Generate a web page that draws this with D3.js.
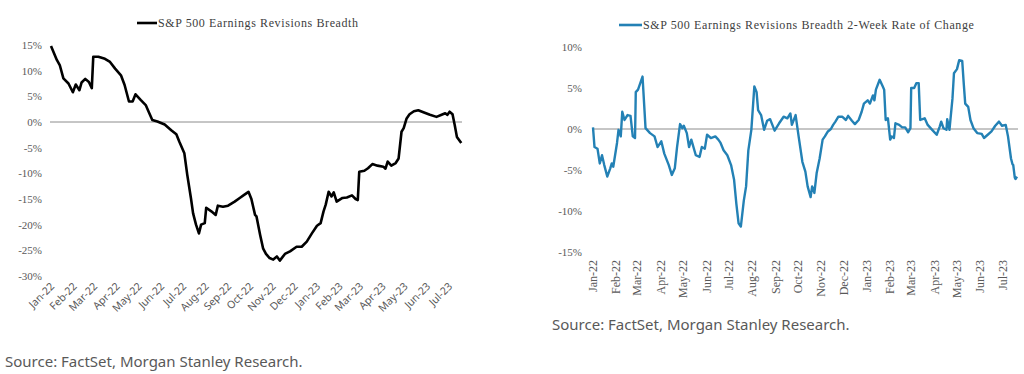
<!DOCTYPE html>
<html>
<head>
<meta charset="utf-8">
<script src="https://cdn.jsdelivr.net/npm/d3@7"></script>
<style>
  body { margin: 0; background: #fff; }
  svg { display: block; }
  .tick text { font-family: "Liberation Serif", "Times New Roman", serif; fill: #595959; }
  .src { font-family: "Noto Sans", sans-serif; fill: #595959; font-size: 15px; }
  .ttl { font-family: "Liberation Serif", serif; fill: #404040; font-size: 12px; letter-spacing: 0.6px; }
</style>
</head>
<body>
<script>
var width = 1024,
    height = 374;

// left: S&P 500 earnings revisions breadth (%)
var breadthDates = ["2022-01-01","2022-01-09","2022-01-13","2022-01-18","2022-01-25","2022-01-31","2022-02-04","2022-02-09","2022-02-12","2022-02-17","2022-02-22","2022-02-26","2022-02-28","2022-03-07","2022-03-16","2022-03-23","2022-03-30","2022-04-07","2022-04-12","2022-04-18","2022-04-23","2022-04-27","2022-05-04","2022-05-11","2022-05-15","2022-05-20","2022-05-27","2022-06-06","2022-06-15","2022-06-22","2022-06-26","2022-07-03","2022-07-07","2022-07-12","2022-07-15","2022-07-19","2022-07-23","2022-07-26","2022-07-31","2022-08-02","2022-08-09","2022-08-15","2022-08-18","2022-08-25","2022-09-01","2022-09-10","2022-09-17","2022-09-23","2022-09-29","2022-10-03","2022-10-08","2022-10-10","2022-10-15","2022-10-19","2022-10-23","2022-10-28","2022-11-02","2022-11-07","2022-11-11","2022-11-18","2022-11-25","2022-12-04","2022-12-11","2022-12-18","2022-12-25","2023-01-01","2023-01-06","2023-01-10","2023-01-13","2023-01-17","2023-01-21","2023-01-24","2023-01-28","2023-02-05","2023-02-11","2023-02-18","2023-02-23","2023-02-26","2023-02-28","2023-03-07","2023-03-12","2023-03-18","2023-03-25","2023-04-02","2023-04-05","2023-04-08","2023-04-13","2023-04-19","2023-04-23","2023-04-27","2023-04-30","2023-05-04","2023-05-08","2023-05-14","2023-05-20","2023-05-27","2023-06-05","2023-06-14","2023-06-21","2023-06-26","2023-06-29","2023-07-02","2023-07-06","2023-07-09","2023-07-12","2023-07-15","2023-07-18"];
var breadthValues = [14.8,12.1,11.1,8.5,7.5,5.8,7.3,6.2,7.7,8.4,7.8,6.6,12.7,12.7,12.3,11.7,10.4,9.1,7.2,4.0,4.0,5.4,4.3,3.3,2.0,0.4,0.1,-0.5,-1.6,-2.4,-3.8,-6.1,-10.3,-14.8,-17.8,-20.0,-21.7,-20.0,-19.7,-16.7,-17.4,-18.1,-16.3,-16.5,-16.3,-15.5,-14.8,-14.2,-13.6,-15.0,-18.1,-18.4,-22.0,-24.6,-25.7,-26.5,-26.8,-26.2,-27.0,-25.7,-25.2,-24.3,-24.3,-23.3,-21.7,-20.2,-19.7,-17.4,-16.1,-13.6,-14.5,-13.7,-15.5,-14.8,-14.7,-14.3,-15.0,-15.2,-9.7,-9.5,-9.0,-8.2,-8.5,-8.7,-9.1,-7.7,-8.5,-8.0,-7.1,-1.9,-1.2,0.7,1.5,2.1,2.3,1.9,1.4,1.0,1.4,1.7,1.4,2.0,1.5,-0.6,-2.9,-3.5,-4.1];

// right: 2-week rate of change (%)
var rocDates = ["2022-01-01","2022-01-03","2022-01-07","2022-01-10","2022-01-13","2022-01-16","2022-01-20","2022-01-24","2022-01-26","2022-01-28","2022-02-02","2022-02-04","2022-02-07","2022-02-09","2022-02-12","2022-02-16","2022-02-20","2022-02-23","2022-02-26","2022-02-27","2022-03-02","2022-03-05","2022-03-08","2022-03-12","2022-03-18","2022-03-24","2022-03-28","2022-04-02","2022-04-06","2022-04-12","2022-04-16","2022-04-20","2022-04-23","2022-04-27","2022-04-30","2022-05-02","2022-05-06","2022-05-09","2022-05-12","2022-05-18","2022-05-23","2022-05-26","2022-05-30","2022-06-02","2022-06-07","2022-06-13","2022-06-17","2022-06-20","2022-06-24","2022-06-29","2022-07-04","2022-07-08","2022-07-11","2022-07-14","2022-07-17","2022-07-21","2022-07-24","2022-07-27","2022-07-31","2022-08-04","2022-08-07","2022-08-09","2022-08-13","2022-08-17","2022-08-21","2022-08-25","2022-08-31","2022-09-06","2022-09-12","2022-09-17","2022-09-21","2022-09-23","2022-09-28","2022-10-02","2022-10-07","2022-10-11","2022-10-14","2022-10-18","2022-10-20","2022-10-23","2022-10-26","2022-10-30","2022-11-03","2022-11-06","2022-11-10","2022-11-14","2022-11-17","2022-11-20","2022-11-24","2022-11-29","2022-12-04","2022-12-07","2022-12-12","2022-12-16","2022-12-21","2022-12-25","2022-12-28","2023-01-02","2023-01-05","2023-01-09","2023-01-11","2023-01-13","2023-01-18","2023-01-22","2023-01-24","2023-01-26","2023-01-29","2023-02-01","2023-02-03","2023-02-06","2023-02-08","2023-02-13","2023-02-17","2023-02-21","2023-02-25","2023-02-28","2023-03-01","2023-03-05","2023-03-08","2023-03-11","2023-03-13","2023-03-19","2023-03-23","2023-03-29","2023-04-04","2023-04-08","2023-04-10","2023-04-13","2023-04-17","2023-04-18","2023-04-21","2023-04-25","2023-04-27","2023-05-01","2023-05-04","2023-05-08","2023-05-10","2023-05-12","2023-05-16","2023-05-19","2023-05-23","2023-05-28","2023-06-03","2023-06-06","2023-06-11","2023-06-16","2023-06-21","2023-06-26","2023-06-30","2023-07-05","2023-07-08","2023-07-12","2023-07-14","2023-07-15","2023-07-17","2023-07-18","2023-07-20"];
var rocValues = [0.2,-2.2,-2.4,-4.2,-3.2,-4.4,-5.8,-4.8,-4.2,-4.6,-1.7,-0.1,-0.9,2.1,1.1,1.7,1.6,-0.9,-1.1,4.5,4.8,5.6,6.4,0.1,-0.5,-0.9,-2.2,-1.5,-3.0,-4.4,-5.6,-4.8,-2.2,0.6,0.1,0.4,-0.5,-2.2,-1.3,-3.2,-3.4,-2.2,-2.4,-0.7,-1.1,-0.9,-1.3,-1.7,-2.6,-3.2,-4.4,-6.2,-9.1,-11.5,-11.9,-8.7,-7.0,-2.6,-0.1,5.2,4.5,2.3,1.7,-0.1,1.0,1.2,-0.2,0.7,1.5,1.3,1.9,0.5,1.7,-0.9,-4.0,-5.2,-7.0,-8.3,-7.0,-7.8,-5.4,-3.6,-1.3,-0.9,-0.3,0.0,0.5,0.9,1.5,1.5,1.1,1.6,1.0,0.6,1.1,2.1,3.1,3.5,3.1,4.1,3.5,4.8,6.0,5.2,4.8,1.1,1.3,-1.3,-0.9,-1.1,0.7,0.5,0.2,0.2,-0.4,0.1,5.0,5.0,5.6,5.6,1.1,1.3,0.5,-0.1,-0.7,0.3,0.9,0.1,-0.1,1.2,-0.1,3.7,6.8,7.3,8.4,8.3,5.6,3.1,2.7,1.1,0.1,-0.5,-0.6,-1.1,-0.7,-0.3,0.4,0.9,0.4,0.5,-0.9,-3.6,-4.3,-4.4,-5.9,-6.1,-5.8];

var monthLabels = ["Jan-22","Feb-22","Mar-22","Apr-22","May-22","Jun-22","Jul-22","Aug-22","Sep-22","Oct-22","Nov-22","Dec-22","Jan-23","Feb-23","Mar-23","Apr-23","May-23","Jun-23","Jul-23"];
var breadthTicks = [15,10,5,0,-5,-10,-15,-20,-25,-30];
var rocTicks = [10,5,0,-5,-10,-15];

var parseDay = d3.timeParse("%Y-%m-%d"),
    parseMonth = d3.timeParse("%b-%y");
var months = monthLabels.map(parseMonth);

var svg = d3.select("body").append("svg")
    .attr("width", width)
    .attr("height", height);

function pct(d) { return d + "%"; }

// ---- left chart ----
var x1 = d3.scaleTime()
    .domain([parseDay("2022-01-01"), parseDay("2023-07-19")])
    .range([51, 462]);
var y1 = d3.scaleLinear().domain([-30, 15]).range([276, 45]);

var gy1 = svg.append("g")
    .attr("transform", "translate(44,0)")
    .call(d3.axisLeft(y1).tickValues(breadthTicks).tickFormat(pct).tickSize(0).tickPadding(2));
gy1.select(".domain").remove();
gy1.selectAll("text").style("font-size", "11px");

svg.append("line")
    .attr("x1", 50).attr("x2", 462)
    .attr("y1", y1(0)).attr("y2", y1(0))
    .attr("stroke", "#8c8c8c").attr("stroke-width", 1);

// month labels on the left are sans, slanted
svg.append("g").selectAll("text")
    .data(months)
    .enter().append("text")
      .attr("transform", function(d) { return "translate(" + (x1(d) + 4) + ",287) rotate(-45)"; })
      .attr("text-anchor", "end")
      .style("font-family", "Noto Sans, sans-serif")
      .style("font-size", "10.5px")
      .style("fill", "#595959")
      .text(function(d, i) { return monthLabels[i]; });

var breadth = breadthDates.map(function(d, i) { return [parseDay(d), breadthValues[i]]; });

svg.append("path")
    .datum(breadth)
    .attr("fill", "none")
    .attr("stroke", "#000")
    .attr("stroke-width", 2.6)
    .attr("stroke-linejoin", "round")
    .attr("d", d3.line().x(function(d) { return x1(d[0]); }).y(function(d) { return y1(d[1]); }));

svg.append("line")
    .attr("x1", 137).attr("x2", 157).attr("y1", 23).attr("y2", 23)
    .attr("stroke", "#000").attr("stroke-width", 2.6);
svg.append("text").attr("class", "ttl")
    .attr("x", 158).attr("y", 27)
    .text("S&P 500 Earnings Revisions Breadth");

svg.append("text").attr("class", "src")
    .attr("x", 5).attr("y", 367)
    .text("Source: FactSet, Morgan Stanley Research.");

// ---- right chart ----
var blue = "#2381b5";
var x2 = d3.scaleTime()
    .domain([parseDay("2022-01-01"), parseDay("2023-07-20")])
    .range([593, 1017]);
var y2 = d3.scaleLinear().domain([-15, 10]).range([252, 47]);

var gy2 = svg.append("g")
    .attr("transform", "translate(584,0)")
    .call(d3.axisLeft(y2).tickValues(rocTicks).tickFormat(pct).tickSize(0).tickPadding(2));
gy2.select(".domain").remove();
gy2.selectAll("text").style("font-size", "11px");

svg.append("line")
    .attr("x1", 592).attr("x2", 1018)
    .attr("y1", y2(0)).attr("y2", y2(0))
    .attr("stroke", "#8c8c8c").attr("stroke-width", 1);

svg.append("g").selectAll("text")
    .data(months)
    .enter().append("text")
      .attr("transform", function(d) { return "translate(" + x2(d) + ",260) rotate(-90)"; })
      .attr("text-anchor", "end")
      .attr("dy", "0.35em")
      .style("font-family", "Liberation Serif, serif")
      .style("font-size", "12px")
      .style("fill", "#595959")
      .text(function(d, i) { return monthLabels[i]; });

var roc = rocDates.map(function(d, i) { return [parseDay(d), rocValues[i]]; });

svg.append("path")
    .datum(roc)
    .attr("fill", "none")
    .attr("stroke", blue)
    .attr("stroke-width", 2.4)
    .attr("stroke-linejoin", "round")
    .attr("d", d3.line().x(function(d) { return x2(d[0]); }).y(function(d) { return y2(d[1]); }));

svg.append("line")
    .attr("x1", 619).attr("x2", 642).attr("y1", 25).attr("y2", 25)
    .attr("stroke", blue).attr("stroke-width", 2.6);
svg.append("text").attr("class", "ttl")
    .attr("x", 643).attr("y", 29)
    .text("S&P 500 Earnings Revisions Breadth 2-Week Rate of Change");

svg.append("text").attr("class", "src")
    .attr("x", 552).attr("y", 330)
    .text("Source: FactSet, Morgan Stanley Research.");
</script>
</body>
</html>
